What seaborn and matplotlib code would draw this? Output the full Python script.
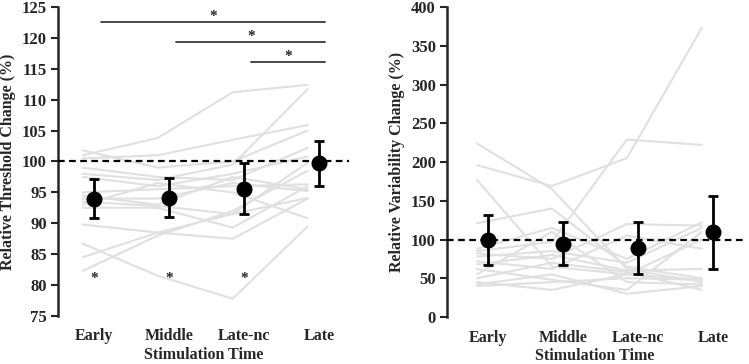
import numpy as np
import pandas as pd
import matplotlib
matplotlib.use("Agg")
import matplotlib.pyplot as plt
import seaborn as sns

# Categories
times = ["Early", "Middle", "Late-nc", "Late"]

# Individual subjects - threshold change (%)
thr_subjects = [
    [101.0, 103.8, 111.2, 112.4],
    [98.0, 97.0, 99.5, 111.7],
    [100.5, 101.0, 103.5, 105.9],
    [101.8, 99.0, 100.0, 105.0],
    [99.0, 97.5, 97.0, 102.2],
    [97.5, 96.0, 98.0, 100.8],
    [95.0, 95.5, 96.0, 96.3],
    [94.5, 93.0, 97.5, 95.5],
    [94.0, 94.0, 96.5, 95.2],
    [93.5, 92.8, 91.5, 99.8],
    [93.0, 96.5, 95.0, 90.8],
    [92.5, 92.5, 89.3, 96.0],
    [89.8, 88.5, 87.5, 94.0],
    [86.7, 81.5, 77.8, 89.5],
    [84.5, 88.5, 91.5, 94.1],
    [82.3, 88.0, 92.0, 98.5],
]
thr_mean = [94.0, 94.1, 95.6, 99.7]
thr_lo = [90.8, 91.0, 91.5, 96.0]
thr_hi = [97.2, 97.3, 99.7, 103.3]

# Individual subjects - variability change (%)
var_subjects = [
    [224, 165, 62, 45],
    [196, 169, 205, 373],
    [177, 65, 55, 48],
    [121, 140, 65, 50],
    [85, 97, 229, 222],
    [88, 115, 75, 122],
    [82, 75, 120, 118],
    [78, 85, 70, 115],
    [72, 62, 105, 88],
    [68, 80, 60, 62],
    [62, 48, 35, 110],
    [55, 110, 45, 42],
    [50, 70, 58, 35],
    [45, 35, 55, 100],
    [42, 55, 30, 40],
    [40, 45, 50, 48],
]
var_mean = [99.8, 94.6, 89.5, 109.7]
var_lo = [66.7, 67.0, 56.0, 62.0]
var_hi = [132.0, 122.0, 123.0, 156.0]

# significance brackets (start category index, end index) and "*" under groups
sig_pairs = [(0, 3), (1, 3), (2, 3)]
sig_y = [122.5, 119.3, 116.1]
below_star_idx = [0, 1, 2]

sns.set_style("ticks")
plt.rcParams['font.family'] = ['Liberation Serif', 'DejaVu Serif']
plt.rcParams['font.weight'] = 'bold'


def to_long(subjects):
    rows = []
    for s, vals in enumerate(subjects):
        for i, v in enumerate(vals):
            rows.append({"subject": s, "pos": i - 0.15, "value": v})
    return pd.DataFrame(rows)


def draw_panel(ax, subjects, mean, lo, hi, ylim, yticks, ylabel, xlim):
    df = to_long(subjects)
    sns.lineplot(data=df, x="pos", y="value", units="subject", estimator=None,
                 color="#e0e0e0", lw=1.5, ax=ax, legend=False)
    ax.axhline(100, color="black", lw=1.6, ls=(0, (3, 2)), zorder=3)
    mean = np.array(mean)
    err = [mean - np.array(lo), np.array(hi) - mean]
    ax.errorbar(np.arange(len(times)), mean, yerr=err, fmt="o", color="black",
                ms=10.5, elinewidth=2, capsize=3.5, capthick=2, zorder=5)
    ax.set_xlim(*xlim)
    ax.set_ylim(*ylim)
    ax.set_yticks(list(yticks))
    ax.set_yticklabels([str(t) for t in yticks], fontsize=12, fontweight="bold")
    ax.set_xticks(range(len(times)))
    ax.set_xticklabels(times, fontsize=11.5, fontweight="bold")
    ax.tick_params(axis="x", length=0, pad=9)
    ax.tick_params(axis="y", length=5, width=1.5, pad=3)
    sns.despine(ax=ax, bottom=True)
    ax.spines["left"].set_linewidth(1.8)
    ax.set_xlabel("Stimulation Time", fontsize=11.5, fontweight="bold", labelpad=2)
    ax.set_ylabel(ylabel, fontsize=11.5, fontweight="bold", labelpad=4)


fig = plt.figure(figsize=(7.49, 3.64), dpi=100)
ax1 = fig.add_axes([0.0774, 0.1319, 0.3885, 0.849])
ax2 = fig.add_axes([0.5968, 0.1291, 0.3952, 0.8516])

draw_panel(ax1, thr_subjects, thr_mean, thr_lo, thr_hi, (75, 125),
           range(75, 126, 5), "Relative Threshold Change (%)", (-0.48, 3.4))
draw_panel(ax2, var_subjects, var_mean, var_lo, var_hi, (0, 400),
           range(0, 401, 50), "Relative Variability Change (%)", (-0.55, 3.4))

for (a, b), y in zip(sig_pairs, sig_y):
    ax1.plot([a + 0.1, b + 0.08], [y, y], color="#3a3a3a", lw=1.3, clip_on=False)
    ax1.text((a + 0.1 + b + 0.08) / 2, y - 0.1, "*", ha="center", va="bottom",
             fontsize=11, fontweight="bold")
for i in below_star_idx:
    ax1.text(i, 81.0, "*", ha="center", va="center", fontsize=11, fontweight="bold")

fig.savefig("out.png", dpi=100)
